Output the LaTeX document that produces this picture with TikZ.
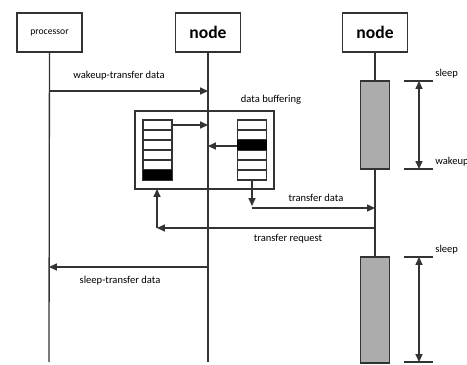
\documentclass[tikz,border=0pt]{standalone}
\usepackage{fontspec}
\setmainfont{Carlito}
\usetikzlibrary{arrows.meta}

\tikzset{
  lbl/.style={font=\fontsize{6}{7}\selectfont, inner sep=1pt},
  head/.style={draw, minimum width=1.3cm, minimum height=0.78cm, inner sep=0pt},
  awake/.style={draw, fill=gray!65, minimum width=0.58cm, inner sep=0pt},
}

\begin{document}
\begin{tikzpicture}[x=0.02cm, y=-0.02cm, line width=0.75pt, draw=black!80,
    >={Triangle[length=4.5pt,width=4pt]}]
  \useasboundingbox (0,0) rectangle (467,365);

  % heads of the lifelines
  \node[head, font=\fontsize{5.5}{6}\selectfont] (proc) at (49.5,32.5) {processor};
  \node[head, font=\fontsize{10}{12}\selectfont\bfseries] (nodeA) at (208,32.5) {node};
  \node[head, font=\fontsize{10}{12}\selectfont\bfseries] (nodeB) at (375,32.5) {node};

  % awake phases of the second node
  \node[awake, minimum height=1.76cm] (busyA) at (375,125) {};
  \node[awake, minimum height=2.12cm] (busyB) at (375,310) {};

  % lifelines
  \coordinate (procend) at (49,362);
  \coordinate (nodeAend) at (208,362);
  \draw (proc) -- (procend);
  \draw (nodeA) -- (nodeAend);
  \draw (nodeB) -- (busyA);
  \draw (busyA) -- (busyB);

  % data buffering
  \node[draw, minimum width=2.78cm, minimum height=1.56cm, inner sep=0pt] (buffer) at (204.5,150) {};
  \node[lbl, anchor=south] (buflbl) at (271,107) {data buffering};
  \node[draw, minimum width=0.58cm, minimum height=1.2cm, inner sep=0pt] (stackL) at (157.5,150) {};
  \node[draw, minimum width=0.58cm, minimum height=1.2cm, inner sep=0pt] (stackR) at (252,150) {};
  \foreach \i in {1,...,5} {
    \draw (143,120+\i*10) -- (172,120+\i*10);
    \draw (237,120+\i*10) -- (267,120+\i*10);
  }
  \fill[black] (143,170) rectangle (172,180);
  \fill[black] (237,140) rectangle (267,150);

  % messages
  \coordinate (wkA) at (49,91);
  \coordinate (wkB) at (208,91);
  \draw[->] (wkA) -- (wkB);
  \node[lbl] (wklbl) at (119,76) {wakeup-transfer data};

  \coordinate (inA) at (172,125);
  \coordinate (inB) at (208,125);
  \draw[->] (inA) -- (inB);
  \coordinate (outA) at (237,146);
  \coordinate (outB) at (208,146);
  \draw[->] (outA) -- (outB);

  \coordinate (tdA) at (252,180);
  \coordinate (tdB) at (252,206);
  \coordinate (tdC) at (252,208);
  \coordinate (tdD) at (375,208);
  \draw[->] (tdA) -- (tdB);
  \draw[->] (tdC) -- (tdD);
  \node[lbl] (tdlbl) at (316,198) {transfer data};

  \coordinate (trA) at (375,228);
  \coordinate (trB) at (157,228);
  \coordinate (trC) at (157,189);
  \draw[->] (trA) -- (trB);
  \draw[->] (trB) -- (trC);
  \node[lbl] (trlbl) at (288,239) {transfer request};

  \coordinate (slA) at (208,267);
  \coordinate (slB) at (49,267);
  \draw[->] (slA) -- (slB);
  \node[lbl] (sllbl) at (120,281) {sleep-transfer data};

  % sleep periods
  \coordinate (mA1) at (404,81);  \coordinate (mA2) at (433,81);
  \coordinate (mB1) at (404,169); \coordinate (mB2) at (433,169);
  \coordinate (mC1) at (404,257); \coordinate (mC2) at (433,257);
  \coordinate (mD1) at (404,362); \coordinate (mD2) at (433,362);
  \draw (mA1) -- (mA2);
  \draw (mB1) -- (mB2);
  \draw (mC1) -- (mC2);
  \draw (mD1) -- (mD2);
  \draw[<->] (419,81) -- (419,169);
  \draw[<->] (419,257) -- (419,362);
  \node[lbl, anchor=south west] (slpA) at (mA2) {sleep};
  \node[lbl, anchor=south west] (wkp) at (mB2) {wakeup};
  \node[lbl, anchor=south west] (slpB) at (mC2) {sleep};
\end{tikzpicture}
\end{document}
